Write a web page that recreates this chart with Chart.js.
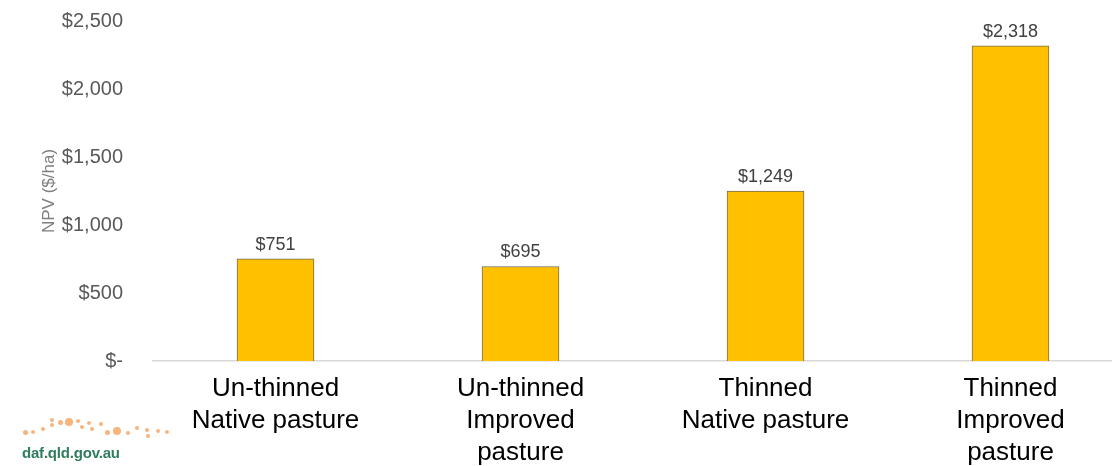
<!DOCTYPE html>
<html>
<head>
<meta charset="utf-8">
<script src="https://cdn.jsdelivr.net/npm/chart.js@4/dist/chart.umd.min.js"></script>
<style>
  html, body { margin: 0; padding: 0; background: #fff; overflow: hidden; width: 1112px; height: 466px; }
  #wrap { position: absolute; left: 0; top: 0; width: 1133px; height: 466px; }
  #logo { position: absolute; left: 0; top: 410px; width: 180px; height: 56px; }
  .dot { position: absolute; border-radius: 50%; background: #f8b47c; }
  #logotext { position: absolute; left: 22px; top: 34px; font-family: "Liberation Sans", Arial, sans-serif; font-weight: bold; font-size: 15px; color: #2f7d5c; letter-spacing: -0.2px; }
</style>
</head>
<body>
<div id="wrap"><canvas id="c" width="1133" height="466"></canvas></div>
<div id="logo"><div id="logotext">daf.qld.gov.au</div></div>
<script>
const categories = [
  ["Un-thinned", "Native pasture"],
  ["Un-thinned", "Improved", "pasture"],
  ["Thinned", "Native pasture"],
  ["Thinned", "Improved", "pasture"]
];
const npvValues = [751, 695, 1249, 2318];
const yTickValues = [0, 500, 1000, 1500, 2000, 2500];
const yTickLabels = ["$-", "$500", "$1,000", "$1,500", "$2,000", "$2,500"];
const yTitle = "NPV ($/ha)";

// decorative logo dots
const dots = [[25,22,5],[33,22,4],[43,19,4],[52,10,4],[52,15,4],[60,12,5],[69,12,8],[78,11,4],[82,17,4],[89,13,4],[92,19,4],[101,14,4],[107,22,5],[117,21,8],[128,23,4],[137,18,4],[147,20,4],[148,26,4],[158,21,4],[167,22,4]];
const logo = document.getElementById('logo');
dots.forEach(([x,y,d]) => {
  const el = document.createElement('div');
  el.className = 'dot';
  el.style.left = (x - d/2) + 'px';
  el.style.top = (y - d/2) + 'px';
  el.style.width = d + 'px';
  el.style.height = d + 'px';
  logo.appendChild(el);
});

const FONT = '"Liberation Sans", Arial, sans-serif';

const valueLabels = {
  id: 'valueLabels',
  afterDatasetsDraw(chart) {
    const ctx = chart.ctx;
    const meta = chart.getDatasetMeta(0);
    ctx.save();
    ctx.font = '18px ' + FONT;
    ctx.fillStyle = '#404040';
    ctx.textAlign = 'center';
    ctx.textBaseline = 'alphabetic';
    meta.data.forEach((bar, i) => {
      const v = chart.data.datasets[0].data[i];
      ctx.fillText('$' + v.toLocaleString('en-US'), bar.x, bar.y - 9);
    });
    ctx.restore();
  }
};

new Chart(document.getElementById('c'), {
  type: 'bar',
  data: {
    labels: categories,
    datasets: [{
      data: npvValues,
      backgroundColor: '#FFC000',
      borderColor: 'rgba(70,60,30,0.75)',
      borderWidth: 1,
      barThickness: 77
    }]
  },
  options: {
    responsive: false,
    animation: false,
    devicePixelRatio: 1,
    layout: { padding: { top: 21, left: 0, right: 0, bottom: 0 } },
    plugins: { legend: { display: false }, tooltip: { enabled: false } },
    scales: {
      x: {
        afterFit(scale) { scale.height = 105; },
        grid: { display: false, drawTicks: false },
        border: { display: true, color: '#d9d9d9', width: 1.5 },
        ticks: {
          maxRotation: 0, autoSkip: false, padding: 12,
          color: '#000000',
          font: { family: FONT, size: 26, lineHeight: 1.23 }
        }
      },
      y: {
        min: 0, max: 2500,
        afterFit(scale) { scale.width = 153; scale.paddingTop = 0; scale.paddingBottom = 0; },
        afterBuildTicks(scale) { scale.ticks = yTickValues.map(v => ({ value: v })); },
        grid: { display: false, drawTicks: false },
        border: { display: false },
        ticks: {
          padding: 30,
          color: '#595959',
          font: { family: FONT, size: 20 },
          callback: (v) => yTickLabels[yTickValues.indexOf(v)]
        },
        title: {
          display: true,
          text: yTitle,
          color: '#7f7f7f',
          font: { family: FONT, size: 17 },
          padding: { top: 39, bottom: 0 }
        }
      }
    }
  },
  plugins: [valueLabels]
});
</script>
</body>
</html>
